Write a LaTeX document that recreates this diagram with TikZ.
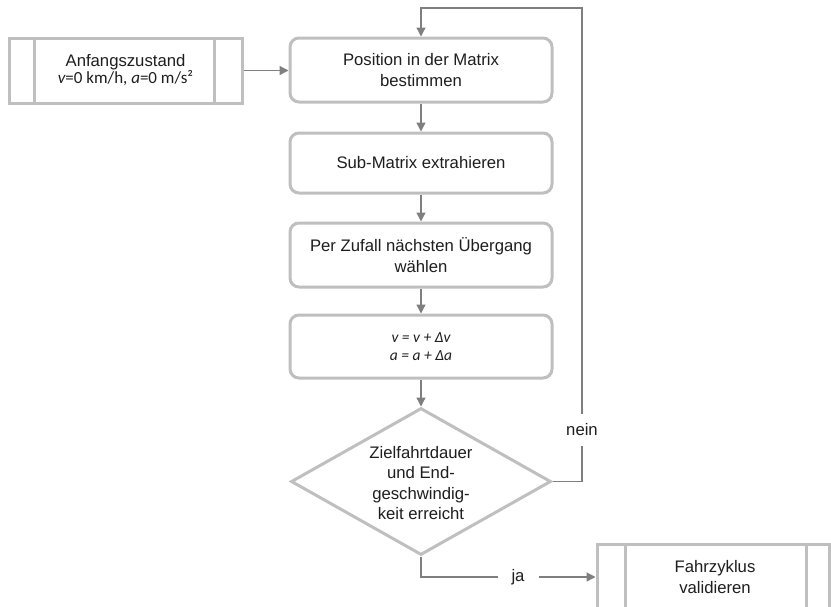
\documentclass[tikz,border=0pt]{standalone}
\usepackage{fontspec}
\setmainfont{Liberation Sans}
\newfontfamily\calib{Carlito}
\usetikzlibrary{shapes.geometric,arrows.meta,calc}
\definecolor{boxgray}{HTML}{BFBFBF}
\definecolor{linegray}{HTML}{7F7F7F}
\definecolor{txt}{HTML}{1E1E1E}

\begin{document}
\begin{tikzpicture}[x=1pt,y=-1pt,
  every node/.style={font=\fontsize{16.7}{20.5}\selectfont, text=txt},
  box/.style={draw=boxgray, line width=3pt, rounded corners=9pt, fill=white,
    minimum width=262, align=center, inner sep=0pt},
  proc/.style={draw=boxgray, line width=3pt, fill=white, align=center, inner sep=0pt},
  sideline/.style={draw=boxgray, line width=3pt},
  decision/.style={diamond, draw=boxgray, line width=3pt, fill=white, inner sep=0pt,
    minimum width=260, minimum height=147},
  conn/.style={draw=linegray, line width=1.3pt, -{Triangle[length=9pt,width=9pt]}},
  lbl/.style={fill=white, inner xsep=3pt, inner ysep=10pt},
]
\clip (0,0) rectangle (831,606);
\useasboundingbox (0,0) rectangle (831,606);

% start state
\node[proc, minimum width=233, minimum height=65] (s) at (125.5,70.5)
  {Anfangszustand\\[-3.5pt]{\calib\fontsize{17}{18}\selectfont\itshape v\upshape=0 km/h, \itshape a\upshape=0 m/s²}};
\draw[sideline] ([xshift=27]s.north west) -- ([xshift=27]s.south west);
\draw[sideline] ([xshift=-29]s.north east) -- ([xshift=-29]s.south east);

% process steps
\node[box, minimum height=64] (b1) at (421,70) {Position in der Matrix\\bestimmen};
\node[box, minimum height=60] (b2) at (421,163) {Sub-Matrix extrahieren};
\node[box, minimum height=64] (b3) at (421,255) {Per Zufall nächsten Übergang\\wählen};
\node[box, minimum height=63, font=\calib\itshape\fontsize{15.5}{18.5}\selectfont] (b4) at (421,346.5)
  {v = v + Δv\\a = a + Δa};

% decision
\node[decision] (d) at (421,481.5) {};
\node[align=center] (dt) at (421,483) {Zielfahrtdauer\\und End-\\geschwindig-\\keit erreicht};

% final step
\node[proc, minimum width=232, minimum height=66] (f) at (713,577) {};
\node[align=center] (ft) at (715,577) {Fahrzyklus\\validieren};
\draw[sideline] ([xshift=30]f.north west) -- ([xshift=30]f.south west);
\draw[sideline] ([xshift=-24]f.north east) -- ([xshift=-24]f.south east);

% connectors
\coordinate (tr) at (582,8);
\coordinate (bl) at (421,577);
\draw[conn] (s.east) -- (s.east -| b1.west);
\draw[conn] (b1.south) -- (b2.north);
\draw[conn] (b2.south) -- (b3.north);
\draw[conn] (b3.south) -- (b4.north);
\draw[conn] (b4.south) -- (d.north);
\draw[conn] (d.east) -- (d.east -| tr) -- (tr) -- (tr -| b1.north) -- (b1.north);
\draw[conn] (d.south) -- (bl) -- (bl -| f.west);

% branch labels
\node[lbl] (nein) at (582,430) {nein};
\node[lbl, inner xsep=14pt, inner ysep=3pt] (ja) at (518,577) {ja};
\end{tikzpicture}
\end{document}
